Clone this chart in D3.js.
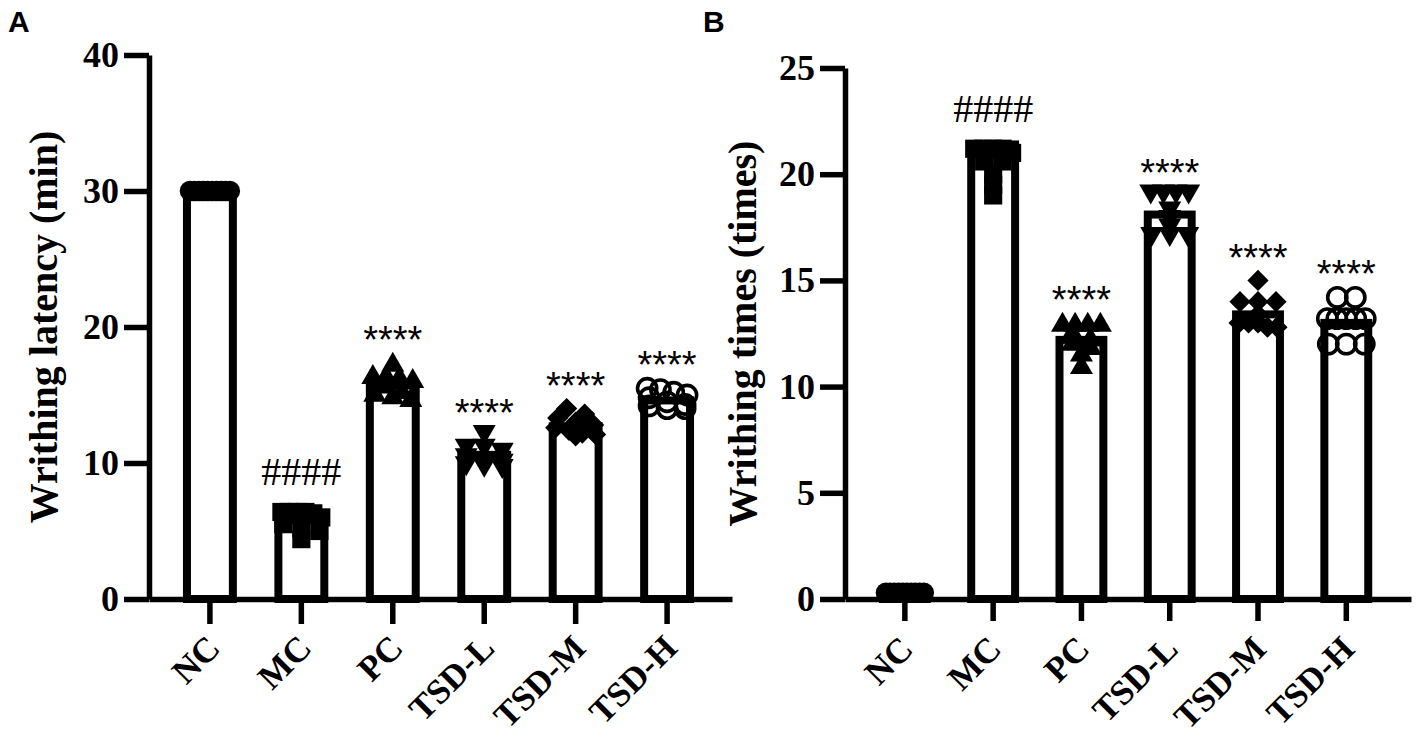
<!DOCTYPE html>
<html>
<head>
<meta charset="utf-8">
<script src="https://cdn.jsdelivr.net/npm/d3@7"></script>
<style>
  body { margin: 0; background: #fff; }
  svg text { fill: #000; }
</style>
</head>
<body>
<svg id="chart" width="1417" height="740"></svg>
<script>
// ---- data ----
const groups = ['NC', 'MC', 'PC', 'TSD-L', 'TSD-M', 'TSD-H'];
const markers = ['circle', 'square', 'triangle', 'triangleDown', 'diamond', 'circleOpen'];

// Panel A: writhing latency (min)
const latencyTicks = [0, 10, 20, 30, 40];
const latencyMeans = [30, 5.8, 15.7, 10.6, 12.7, 14.6];
const latencyPoints = [
  [30, 30, 30, 30, 30, 30, 30, 30, 30, 30],
  [6.4, 6.4, 6.4, 6.4, 6.3, 6.0, 5.5, 5.2, 5.0, 4.4],
  [17.2, 16.3, 16.3, 16.2, 16.0, 15.6, 15.2, 15.0, 14.8, 14.6],
  [12.3, 11.3, 11.3, 11.0, 10.6, 10.4, 10.2, 10.0, 9.9, 9.8],
  [14.0, 13.6, 13.3, 13.0, 12.8, 12.6, 12.4, 12.2, 12.1, 12.0],
  [15.5, 15.4, 15.2, 15.0, 14.8, 14.5, 14.3, 14.2, 14.0, 14.0]
];
const latencySig = ['', '####', '****', '****', '****', '****'];

// Panel B: writhing times (times)
const timesTicks = [0, 5, 10, 15, 20, 25];
const timesMeans = [0.3, 21.4, 12.2, 18.1, 13.4, 13.0];
const timesPoints = [
  [0.3, 0.3, 0.3, 0.3, 0.3, 0.3, 0.3, 0.3, 0.3, 0.3],
  [21.2, 21.2, 21.2, 21.2, 21.0, 20.6, 20.6, 20.0, 19.5, 19.0],
  [12.9, 12.9, 12.9, 12.9, 12.5, 12.2, 12.0, 11.8, 11.5, 10.9],
  [19.2, 19.2, 19.2, 19.2, 18.4, 18.0, 17.6, 17.2, 17.2, 17.2],
  [15.0, 14.0, 14.0, 14.0, 13.4, 13.0, 13.0, 13.0, 12.8, 12.8],
  [14.2, 14.2, 13.2, 13.2, 13.2, 13.2, 13.2, 12.0, 12.0, 12.0]
];
const timesSig = ['', '####', '****', '****', '****', '****'];

// ---- layout ----
const svg = d3.select('#chart');
const serif = '"Liberation Serif", "Times New Roman", serif';
const sans = '"Liberation Sans", Arial, sans-serif';

// symbol shapes; ext = how far the mark reaches above its centre
const shapes = {
  circle:       { type: d3.symbolCircle,   size: 330, rot: 0,   fill: '#000', ext: 10.3 },
  square:       { type: d3.symbolSquare,   size: 330, rot: 0,   fill: '#000', ext: 9.1 },
  triangle:     { type: d3.symbolTriangle, size: 229, rot: 0,   fill: '#000', ext: 13.3 },
  triangleDown: { type: d3.symbolTriangle, size: 229, rot: 180, fill: '#000', ext: 6.6 },
  diamond:      { type: d3.symbolSquare,   size: 225, rot: 45,  fill: '#000', ext: 10.6 },
  circleOpen:   { type: d3.symbolCircle,   size: 290, rot: 0,   fill: 'none', ext: 11.5 }
};

const panels = [
  {
    letter: 'A', letterX: 8, title: 'Writhing latency (min)', titleX: 57,
    ticks: latencyTicks, means: latencyMeans, points: latencyPoints, sig: latencySig,
    axisX: 149, axisEnd: 732, yTop: 55, yBottom: 599,
    pi: 0.498, po: 0.437, align: 0.475, tickLen: 25, labelDx: 12, labelDy: 51
  },
  {
    letter: 'B', letterX: 703, title: 'Writhing times (times)', titleX: 756,
    ticks: timesTicks, means: timesMeans, points: timesPoints, sig: timesSig,
    axisX: 845, axisEnd: 1411, yTop: 68, yBottom: 599,
    pi: 0.503, po: 0.457, align: 0.47, tickLen: 22, labelDx: 10, labelDy: 52
  }
];

// spread points that would overlap into horizontal rows
function layoutPoints(values, cx, y, bw) {
  const sorted = values.slice().sort((a, b) => b - a);
  const rows = [];
  sorted.forEach(v => {
    const row = rows[rows.length - 1];
    if (row && Math.abs(y(row[0]) - y(v)) < 8) row.push(v);
    else rows.push([v]);
  });
  const out = [];
  rows.forEach(row => {
    const k = row.length;
    const step = k > 1 ? Math.min(18, (bw - 6) / (k - 1)) : 0;
    row.forEach((v, i) => out.push({ x: cx + (i - (k - 1) / 2) * step, y: y(v), v }));
  });
  return out;
}

panels.forEach(p => {
  const g = svg.append('g');
  const max = p.ticks[p.ticks.length - 1];

  const y = d3.scaleLinear().domain([0, max]).range([p.yBottom, p.yTop]);
  const x = d3.scaleBand().domain(groups)
    .range([p.axisX, p.axisEnd])
    .paddingInner(p.pi).paddingOuter(p.po).align(p.align);
  const bw = x.bandwidth();

  // Bars
  g.append('g')
    .selectAll('rect')
    .data(groups)
    .join('rect')
    .attr('x', d => x(d))
    .attr('y', (d, i) => y(p.means[i]))
    .attr('width', bw)
    .attr('height', (d, i) => y(0) - y(p.means[i]))
    .attr('fill', '#fff')
    .attr('stroke', '#000')
    .attr('stroke-width', 8);

  // Individual points
  groups.forEach((grp, i) => {
    const shape = shapes[markers[i]];
    const cx = x(grp) + bw / 2;
    const pts = layoutPoints(p.points[i], cx, y, bw);
    const sym = d3.symbol(shape.type, shape.size);

    g.append('g')
      .selectAll('path')
      .data(pts)
      .join('path')
      .attr('d', sym)
      .attr('transform', d => `translate(${d.x},${d.y}) rotate(${shape.rot})`)
      .attr('fill', shape.fill)
      .attr('stroke', shape.fill === 'none' ? '#000' : null)
      .attr('stroke-width', shape.fill === 'none' ? 3.6 : null);

    // Significance mark above the highest mark
    if (p.sig[i]) {
      const top = Math.min(y(p.means[i]) - 4, d3.min(pts, d => d.y - shape.ext));
      const isHash = p.sig[i].startsWith('#');
      g.append('text')
        .attr('x', cx)
        .attr('y', isHash ? top - 18 : top + 1)
        .attr('text-anchor', 'middle')
        .style('font-family', isHash ? serif : sans)
        .style('font-size', isHash ? '40px' : '38px')
        .text(p.sig[i]);
    }
  });

  // Y axis
  const yAxis = g.append('g')
    .attr('transform', `translate(${p.axisX},0)`)
    .call(d3.axisLeft(y).tickValues(p.ticks).tickSize(25).tickSizeOuter(0).tickPadding(5));
  yAxis.select('.domain').attr('stroke-width', 5.5);
  yAxis.selectAll('.tick line').attr('stroke-width', 5.5);
  yAxis.selectAll('.tick text')
    .style('font-family', serif)
    .style('font-size', '36px')
    .style('font-weight', 'bold');

  // X axis
  const xAxis = g.append('g')
    .attr('transform', `translate(0,${p.yBottom})`)
    .call(d3.axisBottom(x).tickSize(p.tickLen).tickSizeOuter(0));
  xAxis.select('.domain').attr('stroke-width', 5.5);
  xAxis.selectAll('.tick line').attr('stroke-width', 5.5);
  xAxis.selectAll('.tick text')
    .attr('y', 0)
    .attr('dy', 0)
    .attr('text-anchor', 'end')
    .attr('transform', `translate(${p.labelDx},${p.labelDy}) rotate(-45)`)
    .style('font-family', serif)
    .style('font-size', '35px')
    .style('font-weight', 'bold');

  // Axis title
  g.append('text')
    .attr('transform', `translate(${p.titleX},${(p.yTop + p.yBottom) / 2}) rotate(-90)`)
    .attr('text-anchor', 'middle')
    .style('font-family', serif)
    .style('font-size', '40px')
    .style('font-weight', 'bold')
    .text(p.title);

  // Panel letter
  g.append('text')
    .attr('x', p.letterX)
    .attr('y', 32)
    .style('font-family', sans)
    .style('font-size', '30px')
    .style('font-weight', 'bold')
    .text(p.letter);
});
</script>
</body>
</html>
